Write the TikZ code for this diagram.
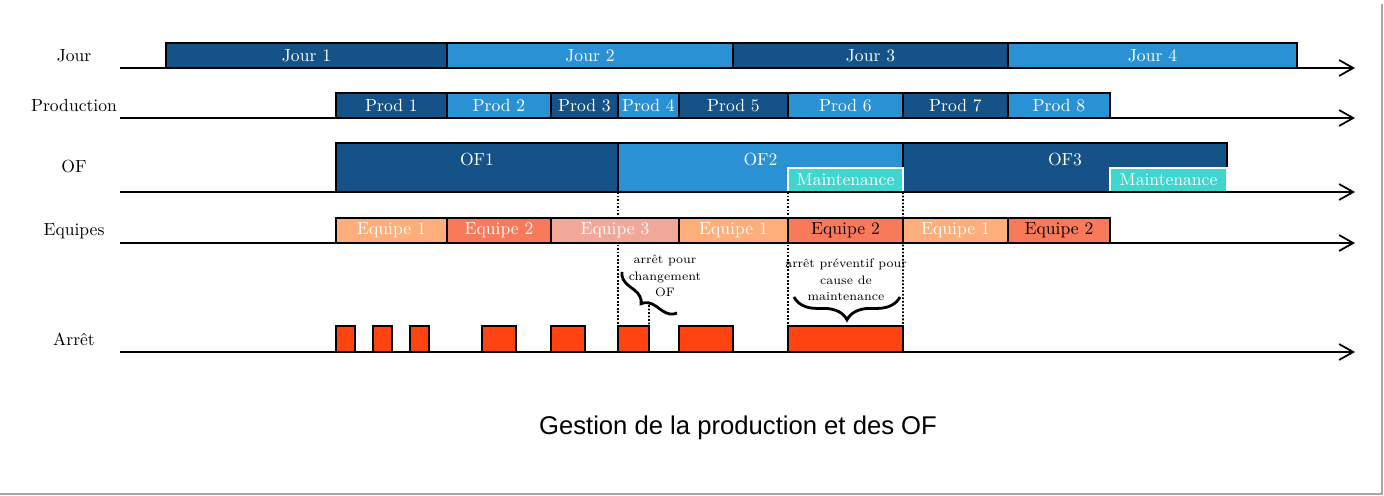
\documentclass[tikz,border=0pt]{standalone}
\usepackage{fontspec}
\newfontfamily\titlefont{Liberation Sans}
\usetikzlibrary{arrows.meta,decorations.pathreplacing}
\newlength\px
\setlength\px{0.02cm}
\definecolor{bleuf}{RGB}{20,82,136}
\definecolor{bleuc}{RGB}{43,145,213}
\definecolor{cyanm}{RGB}{64,214,208}
\definecolor{eqa}{RGB}{253,174,122}
\definecolor{eqb}{RGB}{249,122,90}
\definecolor{eqc}{RGB}{242,168,152}
\definecolor{rouge}{RGB}{255,68,17}
\tikzstyle{axe} = [draw, line width=1pt, -{Straight Barb[length=8pt,width=9pt]}]
\tikzstyle{seg} = [rectangle, draw, line width=0.8pt, inner sep=0pt, outer sep=0pt, anchor=south west, text=white]
\tikzstyle{jour} = [seg, minimum height=25\px]
\tikzstyle{prod} = [seg, minimum height=25\px]
\tikzstyle{of} = [seg, minimum height=49\px]
\tikzstyle{maint} = [seg, draw=white, fill=cyanm, minimum height=24\px]
\tikzstyle{equipe} = [seg, minimum height=25\px]
\tikzstyle{pulse} = [seg, fill=rouge, minimum height=26\px]
\tikzstyle{rowlabel} = [font=\normalsize]
\tikzstyle{note} = [align=center, font=\fontsize{7}{9.4}\selectfont, inner sep=0pt]
\tikzstyle{pointille} = [draw, line width=1pt, densely dotted]
\tikzstyle{accolade} = [draw, line width=1.6pt, decorate, decoration={brace, amplitude=8pt, mirror}]

\begin{document}
\begin{tikzpicture}[x=0.02cm, y=-0.02cm]
	\useasboundingbox (0,0) rectangle (1384,496);
	\draw [black!35, line width=2.5\px] (0,494) -- (1382,494) -- (1382,4);

	% noms des lignes
	\node [rowlabel] (ljour) at (74,56) {Jour};
	\node [rowlabel] (lprod) at (74,106) {Production};
	\node [rowlabel] (lof) at (74,167) {OF};
	\node [rowlabel] (leq) at (74,231) {Equipes};
	\node [rowlabel] (larr) at (74,339) {Arrêt};

	% pointilles (sous les blocs)
	\coordinate (bt) at (649,305);
	\node [pulse, minimum width=31\px] (a6) at (618,352) {};
	\node [pulse, minimum width=115\px] (a8) at (788,352) {};
	\coordinate (of1b) at (618,192);
	\coordinate (of2b) at (788,192);
	\coordinate (of3b) at (903,192);
	\path [pointille] (of1b) to (a6.north west);
	\path [pointille] (of2b) to (a8.north west);
	\path [pointille] (of3b) to (a8.north east);
	\path [pointille] (bt) to (a6.north east);

	% Jour
	\node [jour, fill=bleuf, minimum width=281\px] (j1) at (166,68) {Jour 1};
	\node [jour, fill=bleuc, minimum width=286\px] (j2) at (447,68) {Jour 2};
	\node [jour, fill=bleuf, minimum width=275\px] (j3) at (733,68) {Jour 3};
	\node [jour, fill=bleuc, minimum width=289\px] (j4) at (1008,68) {Jour 4};

	% Production
	\node [prod, fill=bleuf, minimum width=111\px] (p1) at (336,118) {Prod 1};
	\node [prod, fill=bleuc, minimum width=104\px] (p2) at (447,118) {Prod 2};
	\node [prod, fill=bleuf, minimum width=67\px] (p3) at (551,118) {Prod 3};
	\node [prod, fill=bleuc, minimum width=61\px] (p4) at (618,118) {Prod 4};
	\node [prod, fill=bleuf, minimum width=109\px] (p5) at (679,118) {Prod 5};
	\node [prod, fill=bleuc, minimum width=115\px] (p6) at (788,118) {Prod 6};
	\node [prod, fill=bleuf, minimum width=105\px] (p7) at (903,118) {Prod 7};
	\node [prod, fill=bleuc, minimum width=102\px] (p8) at (1008,118) {Prod 8};

	% OF
	\node [of, fill=bleuf, minimum width=282\px, label={[anchor=north, white, yshift=-4\px]north:OF1}] (of1) at (336,192) {};
	\node [of, fill=bleuc, minimum width=285\px, label={[anchor=north, white, yshift=-4\px]north:OF2}] (of2) at (618,192) {};
	\node [of, fill=bleuf, minimum width=324\px, label={[anchor=north, white, yshift=-4\px]north:OF3}] (of3) at (903,192) {};
	\node [maint, minimum width=115\px] (m1) at (788,192) {Maintenance};
	\node [maint, minimum width=117\px] (m2) at (1110,192) {Maintenance};

	% Equipes
	\node [equipe, fill=eqa, minimum width=111\px] (e1) at (336,243) {Equipe 1};
	\node [equipe, fill=eqb, minimum width=104\px] (e2) at (447,243) {Equipe 2};
	\node [equipe, fill=eqc, minimum width=128\px] (e3) at (551,243) {Equipe 3};
	\node [equipe, fill=eqa, minimum width=109\px] (e4) at (679,243) {Equipe 1};
	\node [equipe, fill=eqb, minimum width=115\px, text=black] (e5) at (788,243) {Equipe 2};
	\node [equipe, fill=eqa, minimum width=105\px] (e6) at (903,243) {Equipe 1};
	\node [equipe, fill=eqb, minimum width=102\px, text=black] (e7) at (1008,243) {Equipe 2};

	% Arret
	\node [pulse, minimum width=19\px] (a1) at (336,352) {};
	\node [pulse, minimum width=19\px] (a2) at (373,352) {};
	\node [pulse, minimum width=19\px] (a3) at (410,352) {};
	\node [pulse, minimum width=34\px] (a4) at (482,352) {};
	\node [pulse, minimum width=34\px] (a5) at (551,352) {};
	\node [pulse, minimum width=54\px] (a7) at (679,352) {};

	% axes
	\coordinate (x1) at (120,68);   \coordinate (y1) at (1355,68);
	\coordinate (x2) at (120,118);  \coordinate (y2) at (1355,118);
	\coordinate (x3) at (120,192);  \coordinate (y3) at (1355,192);
	\coordinate (x4) at (120,243);  \coordinate (y4) at (1355,243);
	\coordinate (x5) at (120,352);  \coordinate (y5) at (1355,352);
	\path [axe] (x1) to (y1);
	\path [axe] (x2) to (y2);
	\path [axe] (x3) to (y3);
	\path [axe] (x4) to (y4);
	\path [axe] (x5) to (y5);

	% accolades
	\coordinate (b1a) at (622,272);
	\coordinate (b1b) at (677,313);
	\path [accolade] (b1a) to (b1b);
	\node [note] (n1) at (665,276) {arrêt pour\\changement\\OF};
	\coordinate (b2a) at (794,297);
	\coordinate (b2b) at (900,297);
	\path [accolade, decoration={amplitude=13pt}] (b2a) to (b2b);
	\node [note] (n2) at (846,280) {arrêt préventif pour\\cause de\\maintenance};

	\node [font=\titlefont\fontsize{14.6}{17}\selectfont] (titre) at (738,428) {Gestion de la production et des OF};
\end{tikzpicture}
\end{document}
